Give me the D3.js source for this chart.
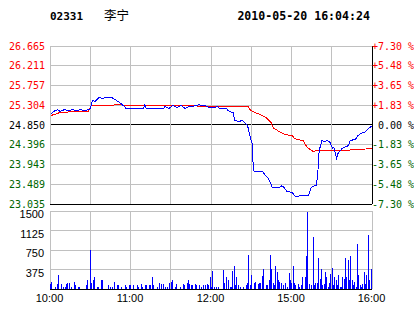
<!DOCTYPE html>
<html>
<head>
<meta charset="utf-8">
<script src="https://cdn.jsdelivr.net/npm/d3@7"></script>
<style>
  body { margin: 0; background: #fff; }
  svg { display: block; }
</style>
</head>
<body>
<div id="chart"></div>
<script>
// minutes since 10:00 (lunch break removed), 240 = 16:00
const priceTimes = [1, 3, 6, 8, 11, 14, 17, 20, 23, 26, 29, 30, 31, 32, 34, 37, 40, 42, 47, 50, 52, 54, 56, 57,
  70, 71, 72, 85, 86, 89, 92, 95, 98, 101, 104, 107, 111, 116, 119, 123, 125, 127, 132, 133, 136, 137, 138,
  142, 143, 145, 147, 148, 149, 151, 152, 153, 159, 161, 163, 165, 166, 171, 173, 175, 177, 181, 183, 187,
  190, 193, 195, 198, 199, 200, 201, 203, 205, 207, 209, 211, 212, 214, 215, 218, 221, 223, 224, 228, 230,
  233, 235, 238, 240]
const priceValues = [25.08, 25.15, 25.19, 25.15, 25.19, 25.17, 25.19, 25.17, 25.19, 25.17, 25.19, 25.19, 25.29,
  25.40, 25.38, 25.47, 25.45, 25.47, 25.46, 25.40, 25.36, 25.31, 25.26, 25.22,
  25.22, 25.30, 25.22, 25.22, 25.26, 25.22, 25.29, 25.24, 25.29, 25.22, 25.26, 25.27, 25.30, 25.29,
  25.24, 25.24, 25.26, 25.22, 25.22, 25.17, 25.13, 25.13, 24.94,
  24.92, 24.95, 24.91, 24.85, 24.78, 24.64, 24.41, 23.79, 23.76, 23.76, 23.68, 23.61, 23.49, 23.40, 23.40,
  23.44, 23.40, 23.31, 23.29, 23.20, 23.21,
  23.22, 23.22, 23.40, 23.45, 23.45, 23.75, 24.25, 24.48, 24.46, 24.48, 24.44, 24.30, 24.32, 24.07, 24.18,
  24.30, 24.34, 24.37, 24.48, 24.51, 24.60,
  24.66, 24.67, 24.76, 24.81]

const avgTimes = [1, 4, 8, 16, 29, 31, 33, 45, 49, 53, 59, 98, 122, 148, 150, 154, 157, 161, 165, 167, 170,
  172, 176, 181, 183, 189, 192, 196, 217, 237, 240]
const avgValues = [25.06, 25.08, 25.13, 25.14, 25.15, 25.28, 25.29, 25.29, 25.30, 25.30, 25.29, 25.29, 25.26,
  25.26, 25.17, 25.11, 25.08, 25.02, 24.90, 24.77, 24.71, 24.67, 24.62, 24.59, 24.52, 24.48, 24.33,
  24.24, 24.25, 24.29, 24.31]

const volTimes = [1, 2, 5, 6, 7, 9, 11, 12, 13, 14, 15, 17, 19, 20, 22, 23, 28, 29, 31, 32, 33, 34, 36, 37,
  39, 40, 44, 46, 47, 49, 51, 52, 54, 57, 58, 60, 61, 63, 66, 67, 69, 70, 72, 73, 75, 76, 77, 78, 81, 82,
  84, 85, 87, 88, 90, 91, 92, 94, 95, 98, 100, 101, 103, 104, 105, 106, 107, 109, 110, 112, 114, 115,
  117, 118, 119, 120, 121, 122, 123, 125, 126, 130, 131, 132, 134, 135, 136, 137, 138, 139, 140, 141,
  143, 145, 147, 148, 149, 150, 151, 153, 154, 156, 157, 158, 159, 160, 162, 163, 164, 165, 166, 167,
  168, 169, 170, 171, 172, 173, 175, 176, 178, 179, 180, 181, 182, 183, 184, 186, 187, 188, 189, 191,
  192, 193, 194, 196, 197, 198, 199, 200, 201, 202, 203, 204, 205, 206, 207, 208, 209, 210, 211, 212,
  213, 214, 215, 216, 217, 218, 219, 220, 221, 222, 223, 224, 225, 226, 227, 228, 229, 230, 231, 232,
  233, 234, 235, 236, 237, 238, 239, 240]
const volValues = [77, 134, 38, 77, 269, 77, 38, 38, 77, 115, 100, 38, 134, 60, 38, 38, 60, 154, 750, 115,
  173, 230, 38, 38, 154, 173, 60, 38, 38, 134, 60, 60, 38, 60, 38, 60, 60, 60, 60, 38, 77, 38, 60, 60, 60,
  60, 230, 60, 38, 100, 77, 77, 38, 38, 100, 134, 173, 38, 77, 38, 77, 60, 115, 173, 77, 60, 60, 77, 60,
  60, 38, 60, 60, 77, 60, 230, 38, 346, 38, 38, 38, 365, 115, 230, 173, 38, 38, 346, 442, 60, 230, 60,
  38, 38, 60, 115, 653, 60, 269, 115, 134, 77, 115, 115, 250, 384, 60, 60, 173, 653, 384, 100,
  60, 442, 326, 173, 134, 100, 60, 100, 38, 307, 173, 100, 442, 115, 60, 77, 38, 60, 230, 230,
  634, 1480, 77, 60, 998, 60, 100, 100, 595, 192, 384, 60, 77, 326, 230, 38, 100, 288, 403, 60,
  230, 173, 60, 269, 38, 38, 230, 192, 595, 230, 557, 173, 634, 154, 60, 134, 38, 864, 269, 60,
  38, 77, 326, 77, 269, 1037, 173, 384]

const priceLabels = ['26.665', '26.211', '25.757', '25.304', '24.850', '24.396', '23.943', '23.489', '23.035']
const pctLabels = ['+7.30', '+5.48', '+3.65', '+1.83', '0.00', '-1.83', '-3.65', '-5.48', '-7.30']
const volTicks = [375, 750, 1125, 1500]
const timeTicks = [0, 60, 120, 180, 240]
const timeLabels = ['10:00', '11:00', '12:00', '15:00', '16:00']

const width = 414
const height = 314
const prevClose = 24.85
const red = '#ff0000'
const green = '#006600'
const grid = '#c0c0c0'

const svg = d3
  .select('#chart')
  .append('svg')
  .attr('width', width)
  .attr('height', height)

const x = d3.scaleLinear().domain([0, 240]).range([49.5, 371.5])
const y = d3.scaleLinear().domain([23.035, 26.665]).range([203.5, 45.5])
const yv = d3.scaleLinear().domain([0, 1500]).range([288.5, 210.5])

const mono = 'DejaVu Sans Mono, monospace'
const sans = 'Liberation Sans, Arial, sans-serif'

// header
svg.append('text').attr('x', 50).attr('y', 20)
  .attr('font-family', mono).attr('font-weight', 'bold').attr('font-size', 11)
  .text('02331')
svg.append('text').attr('x', 104).attr('y', 20)
  .attr('font-family', 'Noto Sans CJK SC').attr('font-size', 12.5)
  .text('李宁')
svg.append('text').attr('x', 370).attr('y', 20).attr('text-anchor', 'end')
  .attr('font-family', mono).attr('font-weight', 'bold').attr('font-size', 11.6)
  .text('2010-05-20 16:04:24')

// price panel grid
const priceTicks = d3.range(9).map(i => 26.665 - i * (26.665 - 23.035) / 8)
const halfHours = d3.range(0, 241, 30)

const g = svg.append('g').attr('shape-rendering', 'crispEdges')

g.selectAll('.hgrid')
  .data(priceTicks)
  .enter()
  .append('line')
  .attr('x1', x(0)).attr('x2', x(240))
  .attr('y1', d => Math.round(y(d)) + 0.5).attr('y2', d => Math.round(y(d)) + 0.5)
  .attr('stroke', (d, i) => (i === 4 || i === 8) ? '#000' : grid)

g.selectAll('.vgrid')
  .data(halfHours)
  .enter()
  .append('line')
  .attr('x1', d => Math.round(x(d)) + 0.5).attr('x2', d => Math.round(x(d)) + 0.5)
  .attr('y1', y(26.665)).attr('y2', y(23.035))
  .attr('stroke', d => d === 240 ? '#000' : grid)

// volume panel grid
g.selectAll('.vhgrid')
  .data([0].concat(volTicks))
  .enter()
  .append('line')
  .attr('x1', x(0)).attr('x2', x(240))
  .attr('y1', d => Math.round(yv(d)) + 0.5).attr('y2', d => Math.round(yv(d)) + 0.5)
  .attr('stroke', d => d === 0 ? '#000' : grid)

g.selectAll('.vvgrid')
  .data(halfHours)
  .enter()
  .append('line')
  .attr('x1', d => Math.round(x(d)) + 0.5).attr('x2', d => Math.round(x(d)) + 0.5)
  .attr('y1', yv(1500)).attr('y2', yv(0))
  .attr('stroke', grid)

// left price labels
svg.selectAll('.plabel')
  .data(priceLabels)
  .enter()
  .append('text')
  .attr('x', 45)
  .attr('y', (d, i) => y(priceTicks[i]) + 4)
  .attr('text-anchor', 'end')
  .attr('font-family', mono).attr('font-size', 10)
  .attr('fill', d => +d > prevClose ? red : (+d === prevClose ? '#000' : green))
  .text(d => d)

// right percent labels
svg.selectAll('.pctlabel')
  .data(pctLabels)
  .enter()
  .append('text')
  .attr('x', 372)
  .attr('y', (d, i) => y(priceTicks[i]) + 4)
  .attr('font-family', mono).attr('font-size', 10)
  .attr('fill', d => d[0] === '+' ? red : (d[0] === '-' ? green : '#000'))
  .attr('xml:space', 'preserve')
  .text(d => (d === '0.00' ? ' ' : '') + d + ' %')

// volume labels
svg.selectAll('.vlabel')
  .data(volTicks)
  .enter()
  .append('text')
  .attr('x', 44)
  .attr('y', d => yv(d) + 7.5)
  .attr('text-anchor', 'end')
  .attr('font-family', sans).attr('font-size', 11)
  .text(d => d)

// time labels
svg.selectAll('.tlabel')
  .data(timeTicks)
  .enter()
  .append('text')
  .attr('x', d => x(d))
  .attr('y', 302)
  .attr('text-anchor', 'middle')
  .attr('font-family', sans).attr('font-size', 11)
  .text((d, i) => timeLabels[i])

// volume bars
svg.append('g')
  .attr('shape-rendering', 'crispEdges')
  .selectAll('rect')
  .data(volTimes)
  .enter()
  .append('rect')
  .attr('x', d => Math.round(x(d)) - 1)
  .attr('width', 1)
  .attr('y', (d, i) => yv(volValues[i]))
  .attr('height', (d, i) => yv(0) - yv(volValues[i]))
  .attr('fill', '#0000ff')

// price and average lines
const line = d3.line()
  .x(d => x(d[0]))
  .y(d => y(d[1]))

svg.append('path')
  .datum(avgTimes.map((t, i) => [t, avgValues[i]]))
  .attr('d', line)
  .attr('fill', 'none')
  .attr('stroke', red)
  .attr('stroke-width', 1)
  .attr('shape-rendering', 'crispEdges')

svg.append('path')
  .datum(priceTimes.map((t, i) => [t, priceValues[i]]))
  .attr('d', line)
  .attr('fill', 'none')
  .attr('stroke', '#0000ff')
  .attr('stroke-width', 1)
  .attr('shape-rendering', 'crispEdges')
</script>
</body>
</html>
